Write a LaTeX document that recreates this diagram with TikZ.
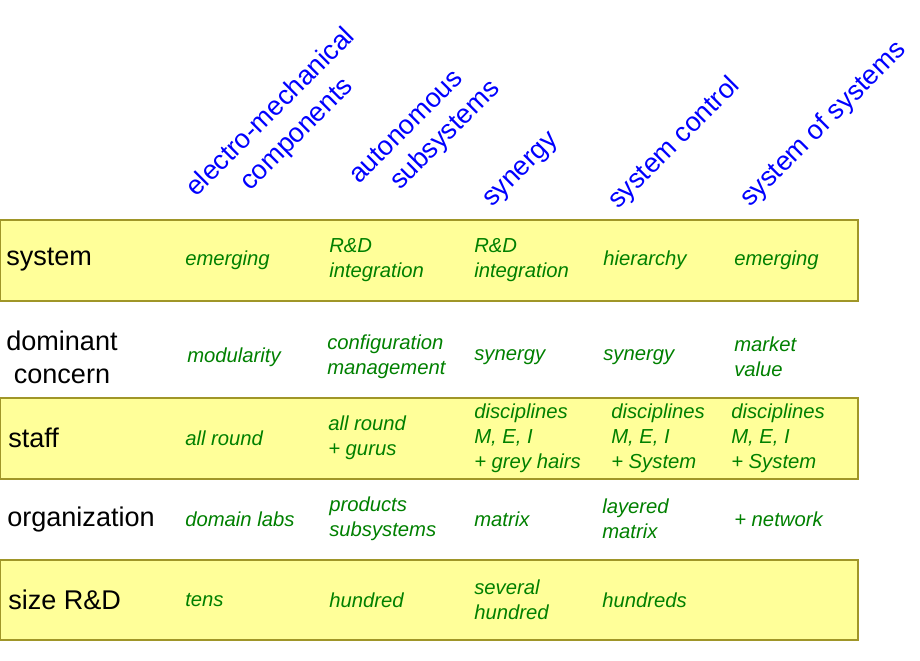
\documentclass[tikz,border=0pt]{standalone}
\usepackage{fontspec}
\setmainfont{Liberation Sans}
\usetikzlibrary{positioning}
\definecolor{band}{RGB}{255,255,153}
\definecolor{bandline}{RGB}{160,150,40}
\definecolor{cell}{RGB}{0,128,0}
\tikzset{
  band/.style = {draw=bandline, fill=band, line width=0.8pt},
  head/.style = {text=blue, rotate=45, anchor=base west, inner sep=0pt,
                 font=\fontsize{20.2}{24}\selectfont},
  rowlab/.style = {anchor=west, inner sep=0pt, align=center,
                 font=\fontsize{20.3}{24.5}\selectfont},
  entry/.style = {text=cell, anchor=west, inner sep=0pt, align=left,
                 font=\fontsize{15.2}{18.75}\selectfont\itshape}
}
\begin{document}
\begin{tikzpicture}[x=0.75pt,y=-0.75pt]
\useasboundingbox (0,0) rectangle (920,660);

%==================== BANDS ====================
\draw[band] (0,220) rectangle (858,301);
\draw[band] (0,398) rectangle (858,479);
\draw[band] (0,560) rectangle (858,640);

%==================== HEADERS ====================
\node[head] (h1a) at (196,198) {electro-mechanical};
\node[head] (h1b) at (250,192) {components};
\node[head] (h2a) at (359,185) {autonomous};
\node[head] (h2b) at (400,191) {subsystems};
\node[head] (h3)  at (492,208) {synergy};
\node[head] (h4)  at (618,210) {system control};
\node[head] (h5)  at (750,208) {system of systems};

%==================== ROW LABELS ====================
\node[rowlab] (rsys)  at (6,260) {system};
\node[rowlab] (rdom)  at (6,357) {dominant\\concern};
\node[rowlab] (rstaf) at (8,438) {staff};
\node[rowlab] (rorg)  at (7,519) {organization};
\node[rowlab] (rsize) at (8,600) {size R\&D};

%==================== ENTRIES ====================
% system
\node[entry] (s1) at (185,260) {emerging};
\node[entry] (s2) at (329,260) {R\&D\\integration};
\node[entry] (s3) at (474,260) {R\&D\\integration};
\node[entry] (s4) at (603,260) {hierarchy};
\node[entry] (s5) at (734,260) {emerging};
% dominant concern
\node[entry] (d1) at (187,357) {modularity};
\node[entry] (d2) at (327,357) {configuration\\management};
\node[entry] (d3) at (474,357) {synergy};
\node[entry] (d4) at (603,357) {synergy};
\node[entry] (d5) at (734,357) {market\\value};
% staff
\node[entry] (t1) at (185,438) {all round};
\node[entry] (t2) at (328,438) {all round\\+ gurus};
\node[entry] (t3) at (474,438) {disciplines\\M, E, I\\+ grey hairs};
\node[entry] (t4) at (611,438) {disciplines\\M, E, I\\+ System};
\node[entry] (t5) at (731,438) {disciplines\\M, E, I\\+ System};
% organization
\node[entry] (o1) at (185,519) {domain labs};
\node[entry] (o2) at (329,519) {products\\subsystems};
\node[entry] (o3) at (474,519) {matrix};
\node[entry] (o4) at (602,519) {layered\\matrix};
\node[entry] (o5) at (734,519) {+ network};
% size R&D
\node[entry] (z1) at (185,600) {tens};
\node[entry] (z2) at (329,600) {hundred};
\node[entry] (z3) at (474,600) {several\\hundred};
\node[entry] (z4) at (602,600) {hundreds};

\end{tikzpicture}
\end{document}
